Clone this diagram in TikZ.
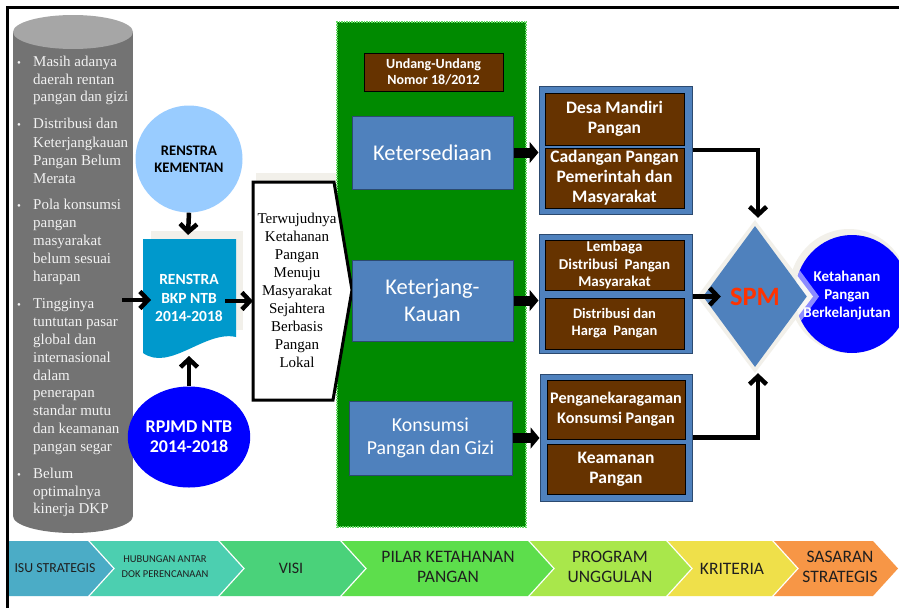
\documentclass[tikz,border=0pt]{standalone}
\usepackage{fontspec}
\setmainfont{Liberation Serif}
\newfontfamily\calfont{Carlito}
\usetikzlibrary{arrows.meta,shapes.geometric}
\definecolor{cylbody}{HTML}{737373}
\definecolor{cyltop}{HTML}{A6A6A6}
\definecolor{cyltext}{HTML}{F2F2F2}
\definecolor{kemfill}{HTML}{99CCFF}
\definecolor{docfill}{HTML}{0099CC}
\definecolor{rpfill}{HTML}{0000FF}
\definecolor{pilgreen}{HTML}{008A00}
\definecolor{dotgreen}{HTML}{66D966}
\definecolor{steel}{HTML}{4F81BD}
\definecolor{steeldark}{HTML}{2C4A70}
\definecolor{brownbox}{HTML}{663300}
\definecolor{spmred}{HTML}{FF3300}
\definecolor{shadowbeige}{HTML}{F2F0EA}
\definecolor{chevA}{HTML}{4BACC6}
\definecolor{chevB}{HTML}{4CCFB0}
\definecolor{chevC}{HTML}{4AD27A}
\definecolor{chevD}{HTML}{5DDE4C}
\definecolor{chevE}{HTML}{A9E74B}
\definecolor{chevF}{HTML}{EFE04A}
\definecolor{chevG}{HTML}{F79646}
\definecolor{chevtext}{HTML}{1F1F1F}
\begin{document}
\begin{tikzpicture}[x=1pt,y=-1pt,
  cyltxt/.style={text=cyltext, font=\fontsize{15}{18}\selectfont, inner sep=0pt, anchor=base west},
  bulletmark/.style={text=cyltext, font=\fontsize{11}{18}\selectfont, inner sep=0pt, anchor=base west},
  pentxt/.style={font=\fontsize{15}{18}\selectfont, inner sep=0pt, anchor=base},
  bluebox/.style={draw=steeldark, line width=1pt, fill=steel, text=white, inner sep=0pt, align=center},
  brownbx/.style={draw=black, line width=0.8pt, fill=brownbox, text=white, inner sep=0pt, align=center},
  groupbox/.style={draw=steeldark, line width=1pt, fill=steel, inner sep=0pt},
  heavyarrow/.style={line width=4.5pt, -{Straight Barb[length=8pt,width=17pt]}},
  blockarrow/.style={line width=10pt, -{Triangle[length=9pt,width=21pt]}},
  chevlabel/.style={text=chevtext, align=center, inner sep=0pt},
]
\useasboundingbox (0,0) rectangle (899,608);
\fill[white] (0,0) rectangle (899,608);

% frame
\draw[line width=3pt] (7,608) -- (7,7) -- (899,7);

% cylinder of issues
\fill[cylbody] (13,32) rectangle (133,516);
\fill[cylbody] (73,516) ellipse [x radius=60pt, y radius=17pt];
\fill[cyltop] (73,32) ellipse [x radius=60pt, y radius=17pt];
\foreach \yy [count=\i] in {66,128,209,308,478}
  \node[bulletmark] (bul\i) at (17,\yy) {•};
\foreach \yy/\tt [count=\i] in {66/Masih adanya, 84/daerah rentan, 101/pangan dan gizi,
  128/Distribusi dan, 147/Keterjangkauan, 165/Pangan Belum, 183/Merata,
  209/Pola konsumsi, 227/pangan, 245/masyarakat, 263/belum sesuai, 281/harapan,
  308/Tingginya, 326/tuntutan pasar, 344/global dan, 362/internasional, 380/dalam,
  397/penerapan, 415/standar mutu, 433/dan keamanan, 451/pangan segar,
  478/Belum, 496/optimalnya, 513/kinerja DKP}
  \node[cyltxt] (cyl\i) at (33,\yy) {\tt};
\coordinate (cylE) at (122,300);

% RENSTRA KEMENTAN
\node[circle, fill=kemfill, minimum size=107pt, inner sep=0pt, align=center,
  font=\calfont\bfseries\fontsize{14.6}{17}\selectfont] (kem) at (189,159) {RENSTRA\\KEMENTAN};

% RENSTRA BKP NTB document
\fill[shadowbeige] (151,231) rectangle (243,330);
\fill[docfill] (143,239) -- (236,239) -- (236,337) .. controls (205,330) and (170,372) .. (143,353) -- cycle;
\node[text=white, align=center, inner sep=0pt, font=\calfont\bfseries\fontsize{15.5}{18.5}\selectfont] (bkp) at (189,298) {RENSTRA\\BKP NTB\\2014-2018};
\coordinate (docN) at (188,235);
\coordinate (docW) at (151,300);
\coordinate (docE) at (225,301);
\coordinate (docS) at (189,356);

% RPJMD
\node[ellipse, fill=rpfill, minimum width=111pt, minimum height=101pt, inner sep=0pt, align=center, text=white,
  font=\calfont\bfseries\fontsize{18}{20}\selectfont] (rp) at (189,437) {RPJMD NTB\\2014-2018};

% green pillar area
\node[draw=dotgreen, densely dotted, line width=1.5pt, fill=pilgreen, minimum width=189pt, minimum height=505pt, inner sep=0pt] (pilar) at (431.5,274.5) {};

% vision pentagon
\fill[shadowbeige] (256,173) rectangle (336,182);
\draw[line width=3pt, fill=white, line join=miter] (253,182) -- (334,182) -- (352,290) -- (333,400) -- (253,400) -- cycle;
\foreach \tt [count=\i] in {Terwujudnya, Ketahanan, Pangan, Menuju, Masyarakat, Sejahtera, Berbasis, Pangan, Lokal}
  \node[pentxt] (pen\i) at (297,205+18*\i) {\tt};
\coordinate (penW) at (253,301);

% arrows on the left
\draw[heavyarrow] (kem.south) -- (docN);
\draw[heavyarrow] (rp.north) -- (docS);
\draw[heavyarrow] (cylE) -- (docW);
\draw[heavyarrow] (docE) -- (penW);

% pillar boxes
\node[brownbx, minimum width=139pt, minimum height=38pt, font=\calfont\bfseries\fontsize{14}{16}\selectfont] (uu) at (433.5,72) {Undang-Undang\\Nomor 18/2012};
\node[bluebox, minimum width=161pt, minimum height=73pt, font=\calfont\fontsize{22.5}{26}\selectfont] (kt) at (432.5,152.5) {Ketersediaan};
\node[bluebox, minimum width=161pt, minimum height=81pt, font=\calfont\fontsize{22.5}{27}\selectfont] (kk) at (432.5,300.5) {Keterjang-\\Kauan};
\node[bluebox, minimum width=163pt, minimum height=74pt, font=\calfont\fontsize{19.8}{23}\selectfont] (kp) at (430.5,438) {Konsumsi\\Pangan dan Gizi};

% program groups
\node[groupbox, minimum width=153pt, minimum height=128pt] (g1) at (615.5,150) {};
\node[groupbox, minimum width=153pt, minimum height=119pt] (g2) at (615.5,293.5) {};
\node[groupbox, minimum width=152pt, minimum height=127pt] (g3) at (616,437.5) {};
\node[brownbx, minimum width=139pt, minimum height=52pt, font=\calfont\bfseries\fontsize{17.5}{20}\selectfont] (b1) at (614.5,119) {Desa Mandiri\\Pangan};
\node[brownbx, minimum width=139pt, minimum height=60pt, font=\calfont\bfseries\fontsize{17.5}{20}\selectfont] (b2) at (614.5,178) {Cadangan Pangan\\Pemerintah dan\\Masyarakat};
\node[brownbx, minimum width=139pt, minimum height=50pt, font=\calfont\bfseries\fontsize{15}{17.5}\selectfont] (b3) at (614.5,265) {Lembaga\\Distribusi\ \ Pangan\\Masyarakat};
\node[brownbx, minimum width=139pt, minimum height=51pt, font=\calfont\bfseries\fontsize{14.5}{17}\selectfont] (b4) at (614.5,323.5) {Distribusi dan\\Harga\ \ Pangan};
\node[brownbx, minimum width=138pt, minimum height=59pt, font=\calfont\bfseries\fontsize{16.2}{20}\selectfont] (b5) at (616,409.5) {Penganekaragaman\\Konsumsi Pangan};
\node[brownbx, minimum width=138pt, minimum height=50pt, font=\calfont\bfseries\fontsize{17.5}{20}\selectfont] (b6) at (616,469) {Keamanan\\Pangan};

% block arrows
\draw[blockarrow] (kt.east) -- (kt.east -| g1.west);
\draw[blockarrow] (kk.east) -- (kk.east -| g2.west);
\draw[blockarrow] (kp.east) -- (kp.east -| g3.west);

% outcome circle with its pale shadow
\fill[shadowbeige] (849,291) ellipse [x radius=60pt, y radius=62pt];
\node[ellipse, fill=rpfill, minimum width=114pt, minimum height=118pt, inner sep=0pt] (kpb) at (852,294) {};
% SPM diamond with its pale shadow
\fill[shadowbeige] (755,220) -- (813,296.5) -- (755,373) -- (697,296.5) -- cycle;
\node[diamond, fill=steel, minimum width=104pt, minimum height=141pt, aspect=0.74, inner sep=0pt,
  text=spmred, font=\calfont\bfseries\fontsize{26.5}{30}\selectfont] (spm) at (755,296.5) {SPM};
% light reflection of the diamond on the circle
\begin{scope}
  \clip (852,294) ellipse [x radius=57pt, y radius=59pt];
  \fill[white, opacity=0.55, even odd rule]
    (767,226) -- (819,296.5) -- (767,367) -- (715,296.5) -- cycle
    (755,226) -- (807,296.5) -- (755,367) -- (703,296.5) -- cycle;
\end{scope}
\node[text=white, align=center, inner sep=0pt, font=\calfont\bfseries\fontsize{15}{18}\selectfont] (kpbt) at (847,295) {Ketahanan\\Pangan\\Berkelanjutan};

% arrows to SPM
\draw[heavyarrow] (g1.east) -| ([xshift=3pt,yshift=8pt]spm.north);
\draw[heavyarrow] (g3.east) -| ([xshift=3pt,yshift=-6pt]spm.south);
\draw[heavyarrow] (g2.east |- spm.west) -- ([xshift=18pt]spm.west);

% bottom chevron bar
\fill[chevA] (9,541) -- (88,541) -- (113,568.5) -- (88,596) -- (9,596) -- cycle;
\fill[chevB] (90,541) -- (218,541) -- (243,568.5) -- (218,596) -- (90,596) -- (115,568.5) -- cycle;
\fill[chevC] (220,541) -- (340,541) -- (365,568.5) -- (340,596) -- (220,596) -- (245,568.5) -- cycle;
\fill[chevD] (342,541) -- (528,541) -- (553,568.5) -- (528,596) -- (342,596) -- (367,568.5) -- cycle;
\fill[chevE] (530,541) -- (666,541) -- (691,568.5) -- (666,596) -- (530,596) -- (555,568.5) -- cycle;
\fill[chevF] (668,541) -- (772,541) -- (797,568.5) -- (772,596) -- (668,596) -- (693,568.5) -- cycle;
\fill[chevG] (774,541) -- (873,541) -- (898,568.5) -- (873,596) -- (774,596) -- (799,568.5) -- cycle;
\node[chevlabel, font=\calfont\fontsize{13.8}{15}\selectfont] (isu) at (55,568.5) {ISU STRATEGIS};
\node[chevlabel, font=\calfont\fontsize{10.5}{15}\selectfont] (hub) at (165,567) {HUBUNGAN ANTAR\\DOK PERENCANAAN};
\node[chevlabel, font=\calfont\fontsize{16}{18}\selectfont] (visi) at (291,568.5) {VISI};
\node[chevlabel, font=\calfont\fontsize{17.5}{20}\selectfont] (pil) at (448,567) {PILAR KETAHANAN\\PANGAN};
\node[chevlabel, font=\calfont\fontsize{17.5}{20}\selectfont] (prog) at (610,567) {PROGRAM\\UNGGULAN};
\node[chevlabel, font=\calfont\fontsize{17.5}{20}\selectfont] (krit) at (732,568.5) {KRITERIA};
\node[chevlabel, font=\calfont\fontsize{17.5}{20}\selectfont] (sas) at (840,567) {SASARAN\\STRATEGIS};
\end{tikzpicture}
\end{document}
